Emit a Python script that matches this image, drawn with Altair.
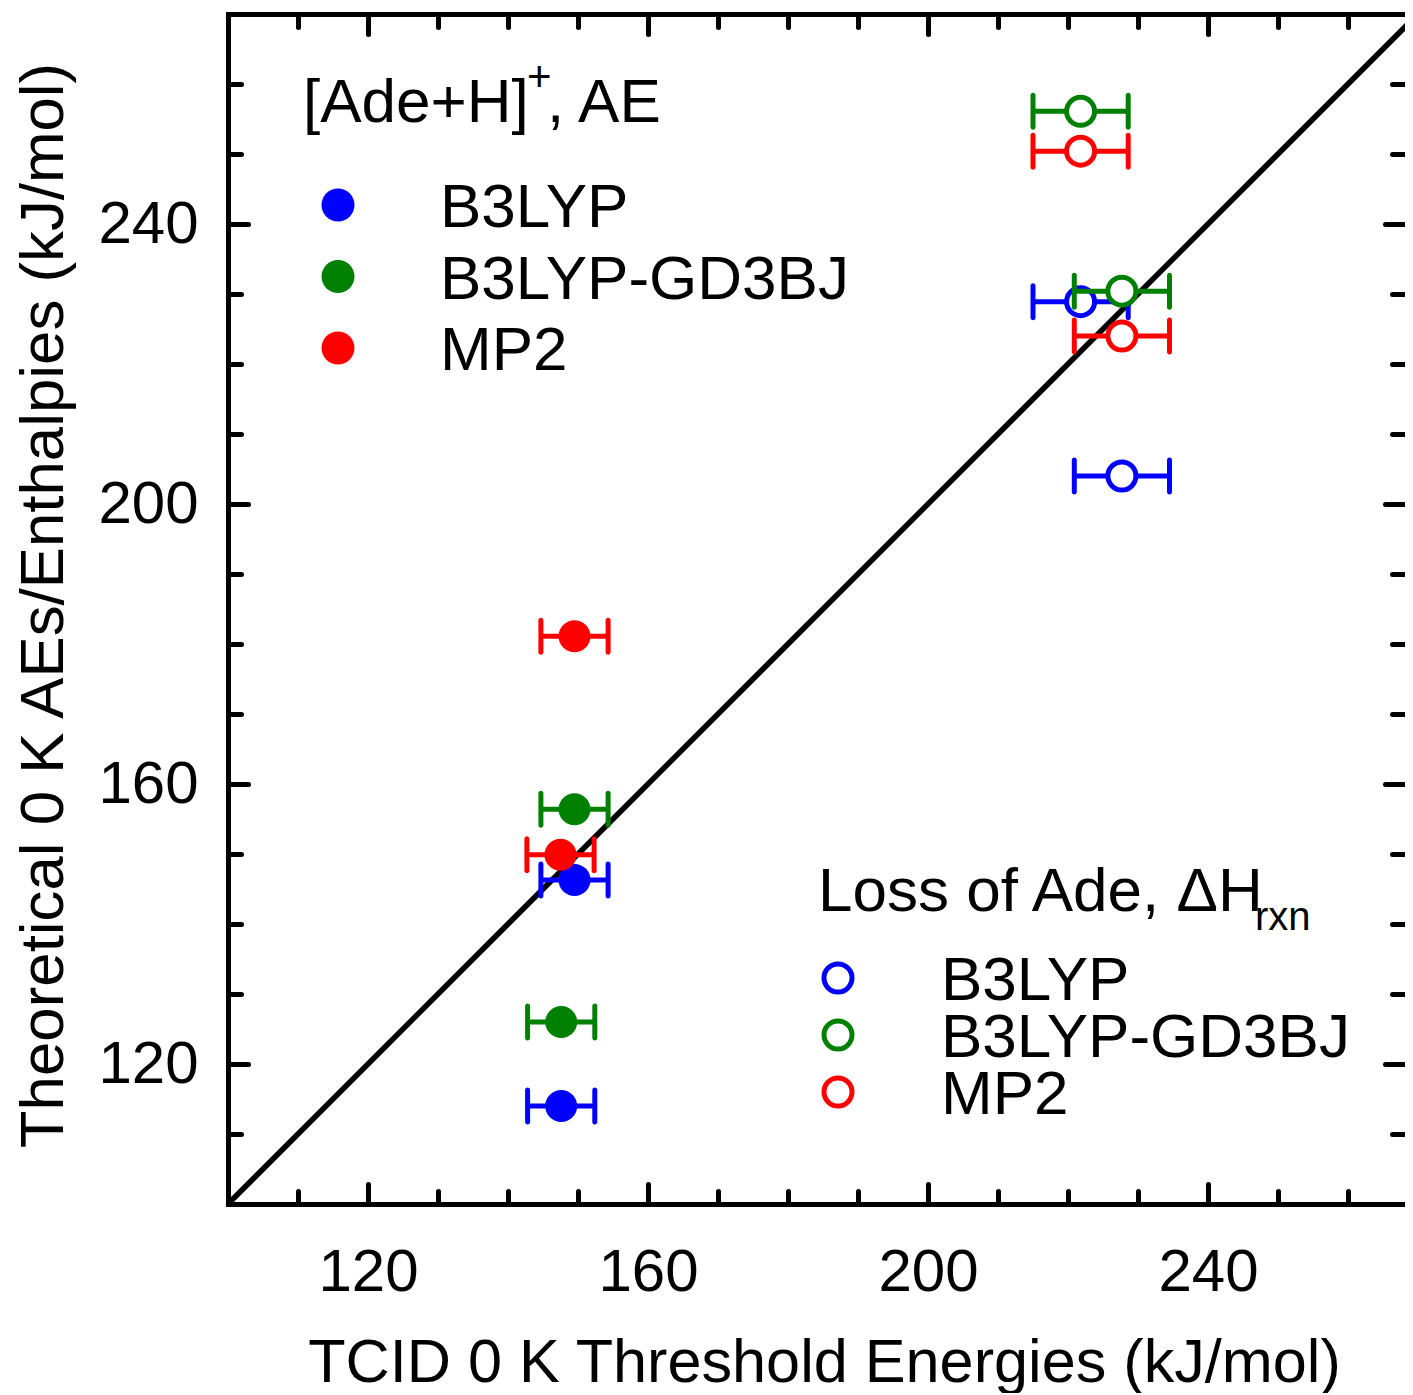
import altair as alt
import pandas as pd

FONT = "Liberation Sans"

methods = ["B3LYP", "B3LYP-GD3BJ", "MP2"]
colors = ["#0000ff", "#008000", "#ff0000"]

# [Ade+H]+ appearance energies (filled symbols)
ae_x = {"B3LYP": [147.6, 149.5], "B3LYP-GD3BJ": [147.6, 149.5], "MP2": [147.5, 149.5]}
ae_y = {"B3LYP": [114.0, 146.3], "B3LYP-GD3BJ": [126.0, 156.4], "MP2": [149.9, 181.1]}
ae_err = [4.8, 4.8]

# Loss of Ade reaction enthalpies (open symbols)
dh_x = [221.8, 227.7]
dh_y = {"B3LYP": [228.9, 204.0], "B3LYP-GD3BJ": [256.1, 230.4], "MP2": [250.4, 224.0]}
dh_err = [6.8, 6.8]

major_ticks = [120, 160, 200, 240]
minor_ticks = [110, 130, 140, 150, 170, 180, 190, 210, 220, 230, 250, 260]
diag = [100, 270]

rows = []
for m in methods:
    for x, y, e in zip(ae_x[m], ae_y[m], ae_err):
        rows.append(dict(method=m, kind="AE", x=x, y=y, lo=x - e, hi=x + e))
    for x, y, e in zip(dh_x, dh_y[m], dh_err):
        rows.append(dict(method=m, kind="dH", x=x, y=y, lo=x - e, hi=x + e))
df = pd.DataFrame(rows)

W, H = 1177, 1190
xs = alt.Scale(domain=[100, 100 + W / 7.0], nice=False, zero=False)
ys = alt.Scale(domain=[100, 270], nice=False, zero=False)

layers = []

# diagonal
layers.append(
    alt.Chart(pd.DataFrame({"x": diag, "y": diag}))
    .mark_line(color="black", strokeWidth=5.5, clip=True)
    .encode(x=alt.X("x:Q", scale=xs, axis=None), y=alt.Y("y:Q", scale=ys, axis=None))
)

base = alt.Chart(df)
for m, c in zip(methods, colors):
    sub = base.transform_filter(alt.datum.method == m)
    layers.append(
        sub.mark_rule(color=c, strokeWidth=5).encode(
            x=alt.X("lo:Q", scale=xs, axis=None), x2="hi:Q",
            y=alt.Y("y:Q", scale=ys, axis=None))
    )
    layers.append(
        sub.transform_fold(["lo", "hi"], as_=["side", "xe"])
        .mark_tick(color=c, orient="vertical", size=37, thickness=5, cornerRadius=2.5, opacity=1)
        .encode(x=alt.X("xe:Q", scale=xs, axis=None), y=alt.Y("y:Q", scale=ys, axis=None))
    )
    layers.append(
        sub.transform_filter(alt.datum.kind == "AE")
        .mark_point(shape="circle", filled=True, color=c, size=1024, opacity=1)
        .encode(x=alt.X("x:Q", scale=xs, axis=None), y=alt.Y("y:Q", scale=ys, axis=None))
    )
    layers.append(
        sub.transform_filter(alt.datum.kind == "dH")
        .mark_point(shape="circle", filled=False, fill="white", stroke=c, strokeWidth=5, size=784, opacity=1)
        .encode(x=alt.X("x:Q", scale=xs, axis=None), y=alt.Y("y:Q", scale=ys, axis=None))
    )

# axes
dummy = alt.Chart(pd.DataFrame({"x": [100], "y": [100]}))
common = dict(grid=False, labelFont=FONT, titleFont=FONT, labelColor="black", titleColor="black",
              tickColor="black", domainColor="black")


def tick_axis(orient, offset, values, size, domain=False):
    return alt.Axis(orient=orient, offset=offset, values=values, ticks=True, tickSize=size, tickWidth=5,
                    tickCap="round", labels=False, domain=domain, domainWidth=5, domainCap="square",
                    title=None, **common)


x_main = alt.Axis(orient="bottom", values=major_ticks, ticks=False, tickSize=0, domain=True, domainWidth=5,
                  domainCap="square", labelFontSize=60, labelPadding=39, format="d",
                  title="TCID 0 K Threshold Energies (kJ/mol)", titleFontSize=61.2, titleFontWeight="normal",
                  titleBaseline="alphabetic", titleX=596, titleY=177, **common)
y_main = alt.Axis(orient="left", values=major_ticks, ticks=False, tickSize=0, domain=True, domainWidth=5,
                  domainCap="square", labelFontSize=60, labelPadding=30, format="d",
                  title="Theoretical 0 K AEs/Enthalpies (kJ/mol)", titleFontSize=61.8, titleFontWeight="normal",
                  titleBaseline="alphabetic", titleAngle=270, titleAlign="center", titleX=-166, titleY=591,
                  **common)

axis_pairs = [
    (x_main, y_main),
    (tick_axis("top", -H, major_ticks, 20), tick_axis("right", -W, major_ticks, 20)),
    (tick_axis("top", -H, minor_ticks, 13), tick_axis("right", -W, minor_ticks, 13)),
    (tick_axis("bottom", -H, major_ticks, 20, domain=True), tick_axis("left", -W, major_ticks, 20)),
    (tick_axis("bottom", -H, minor_ticks, 13), tick_axis("left", -W, minor_ticks, 13)),
]
for ax, ay in axis_pairs:
    layers.append(
        dummy.mark_point(opacity=0).encode(
            x=alt.X("x:Q", scale=xs, axis=ax), y=alt.Y("y:Q", scale=ys, axis=ay))
    )

# legends (pixel positions in view coordinates)
one = alt.Chart(pd.DataFrame({"t": [0]}))


def txt(s, x, y, size=62, baseline="alphabetic"):
    return one.mark_text(text=s, font=FONT, fontSize=size, color="black", align="left",
                         baseline=baseline).encode(x=alt.value(x), y=alt.value(y))


layers.append(txt("[Ade+H]", 75, 108))
layers.append(txt("+", 299, 77, size=42))
layers.append(txt(", AE", 319, 108))
for i, (m, c) in enumerate(zip(methods, colors)):
    yy = 191 + 71.5 * i
    layers.append(one.mark_point(shape="circle", filled=True, color=c, size=1089, opacity=1)
                  .encode(x=alt.value(110), y=alt.value(yy)))
    layers.append(txt(m, 212, yy + 22))

layers.append(txt("Loss of Ade, \u0394H", 590, 897))
layers.append(txt("rxn", 1027, 916, size=40))
for i, (m, c) in enumerate(zip(methods, colors)):
    yy = 964 + 57 * i
    layers.append(one.mark_point(shape="circle", filled=False, fill="white", stroke=c, strokeWidth=5,
                                 size=784, opacity=1).encode(x=alt.value(610), y=alt.value(yy)))
    layers.append(txt(m, 713, yy + 22))

chart = (
    alt.layer(*layers)
    .resolve_axis(x="independent", y="independent")
    .properties(width=W, height=H, autosize=alt.AutoSizeParams(type="none"),
                padding={"left": 220, "top": 6, "right": 0, "bottom": 189})
    .configure_view(stroke=None)
    .configure(background="white")
)

chart.save("out.html", embed_options={"renderer": "svg", "actions": False})
